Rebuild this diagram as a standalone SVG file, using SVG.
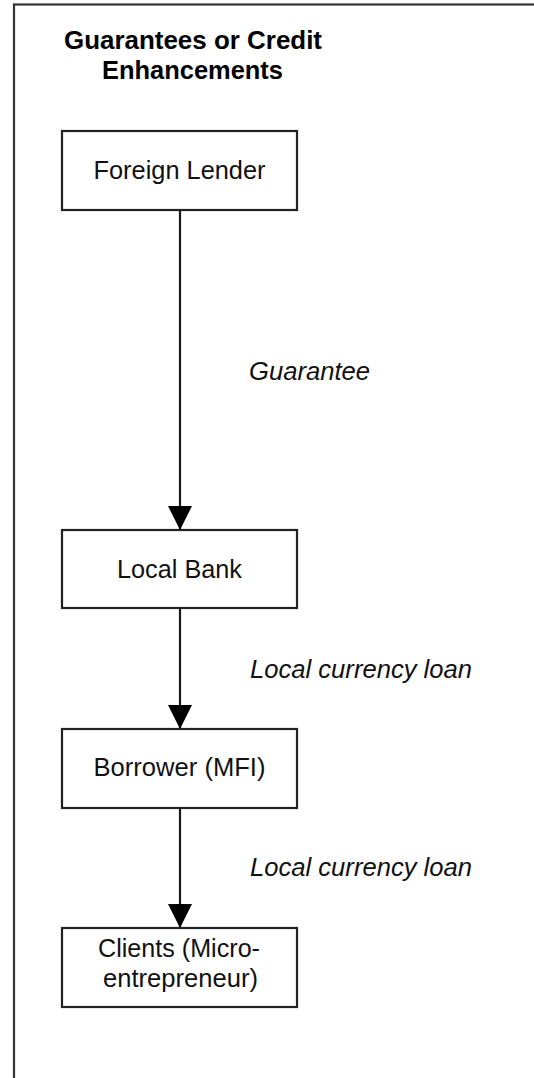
<svg xmlns="http://www.w3.org/2000/svg" width="534" height="1078" viewBox="0 0 534 1078">
<style>
.frame{fill:none;stroke:#333;stroke-width:2.2}
.box{fill:#fff;stroke:#222;stroke-width:2.2}
.lbl{font-family:"Liberation Sans",Arial,sans-serif;font-size:26px;fill:#111;text-anchor:middle}
.title{font-family:"Liberation Sans",Arial,sans-serif;font-size:26px;font-weight:bold;fill:#000;text-anchor:middle}
.edge{font-family:"Liberation Sans",Arial,sans-serif;font-size:26px;font-style:italic;fill:#111}
.conn{stroke:#1a1a1a;stroke-width:2.2;fill:none}
</style>
<defs>
<marker id="arr" markerUnits="userSpaceOnUse" markerWidth="24" markerHeight="24" refX="24" refY="12" orient="auto">
<path d="M0,0 L24,12 L0,24 Z" fill="#000"/>
</marker>
</defs>
<rect class="frame" x="14" y="4.5" width="600" height="1200"/>
<g id="title">
<text class="title" x="193" y="49" textLength="258" lengthAdjust="spacingAndGlyphs">Guarantees or Credit</text>
<text class="title" x="192.5" y="79" textLength="181" lengthAdjust="spacingAndGlyphs">Enhancements</text>
</g>
<g id="connectors">
<line class="conn" x1="180" y1="210" x2="180" y2="530" marker-end="url(#arr)"/>
<line class="conn" x1="180" y1="608" x2="180" y2="729" marker-end="url(#arr)"/>
<line class="conn" x1="180" y1="808" x2="180" y2="928" marker-end="url(#arr)"/>
<text class="edge" x="249" y="380" textLength="121" lengthAdjust="spacingAndGlyphs">Guarantee</text>
<text class="edge" x="250" y="678" textLength="222" lengthAdjust="spacingAndGlyphs">Local currency loan</text>
<text class="edge" x="250" y="876" textLength="222" lengthAdjust="spacingAndGlyphs">Local currency loan</text>
</g>
<g id="foreign-lender">
<rect class="box" x="62" y="131" width="235" height="79"/>
<text class="lbl" x="179.5" y="179" textLength="172" lengthAdjust="spacingAndGlyphs">Foreign Lender</text>
</g>
<g id="local-bank">
<rect class="box" x="62" y="530" width="235" height="78"/>
<text class="lbl" x="179.5" y="578" textLength="125" lengthAdjust="spacingAndGlyphs">Local Bank</text>
</g>
<g id="borrower">
<rect class="box" x="62" y="729" width="235" height="79"/>
<text class="lbl" x="179.5" y="776" textLength="172" lengthAdjust="spacingAndGlyphs">Borrower (MFI)</text>
</g>
<g id="clients">
<rect class="box" x="62" y="928" width="235" height="79"/>
<text class="lbl" x="179" y="957" textLength="162" lengthAdjust="spacingAndGlyphs">Clients (Micro-</text>
<text class="lbl" x="180.5" y="987" textLength="155" lengthAdjust="spacingAndGlyphs">entrepreneur)</text>
</g>
</svg>
